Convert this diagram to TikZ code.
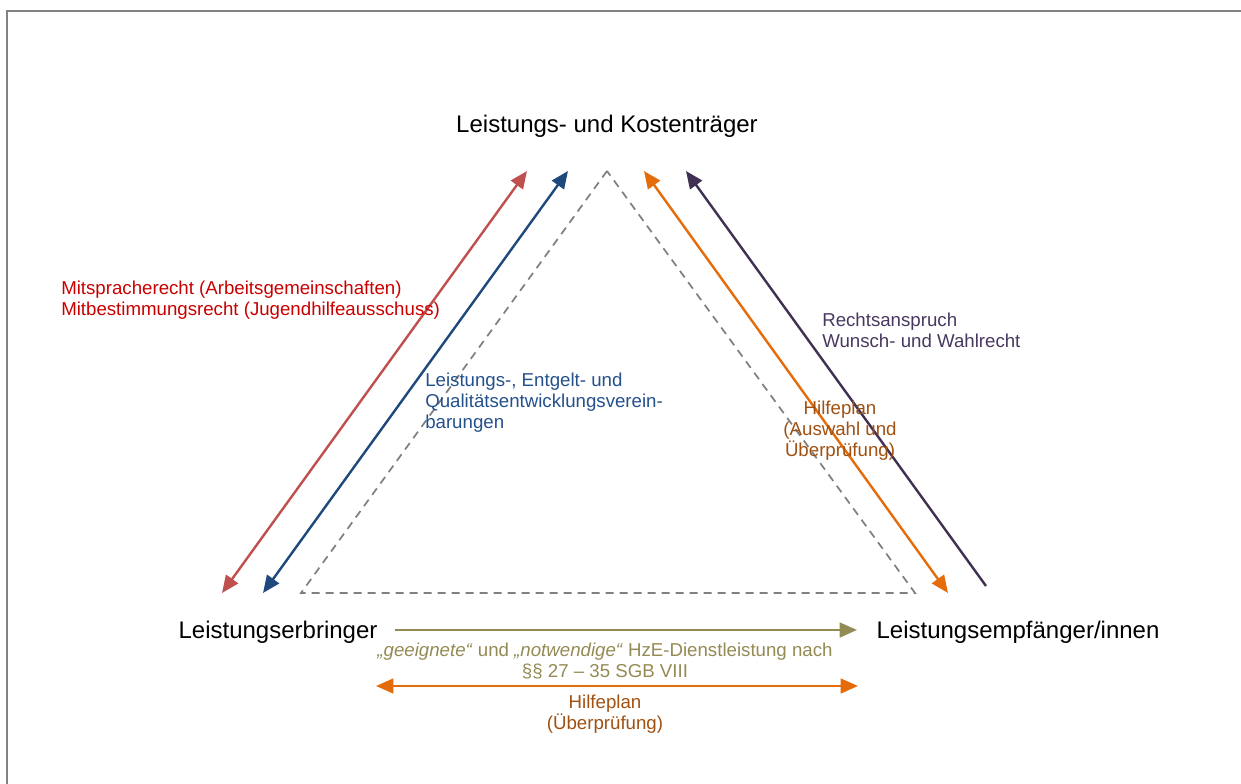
\documentclass[tikz,border=0pt]{standalone}
\usepackage{fontspec}
\setmainfont{Liberation Sans}
\usetikzlibrary{arrows.meta}
\definecolor{cred}{RGB}{192,80,77}
\definecolor{cblue}{RGB}{31,73,125}
\definecolor{corange}{RGB}{228,108,10}
\definecolor{cpurple}{RGB}{64,49,82}
\definecolor{colive}{RGB}{148,138,84}
\definecolor{tred}{RGB}{200,0,0}
\definecolor{tblue}{RGB}{36,80,140}
\definecolor{tpurple}{RGB}{72,56,96}
\definecolor{tbrown}{RGB}{160,80,16}
\definecolor{tolive}{RGB}{148,138,84}
\definecolor{framegray}{RGB}{130,130,130}
\definecolor{dashgray}{RGB}{128,128,128}
\tikzset{
  bigtext/.style={inner sep=0pt, font=\fontsize{18}{21}\selectfont, text=black},
  smalltext/.style={inner sep=0pt, font=\fontsize{14}{15.8}\selectfont},
  conn/.style={line width=1.8pt},
  tipone/.style={-{Triangle[length=13pt,width=11pt]}},
  tiptwo/.style={{Triangle[length=13pt,width=11pt]}-{Triangle[length=13pt,width=11pt]}},
  dashtri/.style={draw=dashgray, line width=1.3pt, dash pattern=on 6pt off 4.5pt},
}
\begin{document}
\begin{tikzpicture}[x=0.75pt,y=-0.75pt]
\useasboundingbox (0,0) rectangle (1241,784);
\coordinate (fb) at (7,784);
\coordinate (ftl) at (7,11);
\coordinate (fr) at (1241,11);
\draw[framegray, line width=1.6pt] (fb) -- (ftl) -- (fr);

% main labels
\node[bigtext] (kt) at (607,126) {Leistungs- und Kostenträger};
\node[bigtext] (le) at (278,632) {Leistungserbringer};
\node[bigtext] (lm) at (1018,632) {Leistungsempfänger/innen};

% dashed triangle
\coordinate (tA) at (607,171);
\coordinate (tL) at (301,593);
\coordinate (tR) at (915,593);
\draw[dashtri] (tA) -- (tL) -- (tR) -- cycle;

% arrow end points
\coordinate (r1) at (222,593); \coordinate (r2) at (527,171);
\coordinate (b1) at (263,593); \coordinate (b2) at (568,171);
\coordinate (o1) at (644,171); \coordinate (o2) at (948,593);
\coordinate (p1) at (986,586); \coordinate (p2) at (686,171);
\coordinate (g1) at (395,630); \coordinate (g2) at (857,630);
\coordinate (h1) at (376,686); \coordinate (h2) at (858,686);

\draw[conn, tiptwo, cred, fill=cred] (r1) -- (r2);
\draw[conn, tiptwo, cblue, fill=cblue] (b1) -- (b2);
\draw[conn, tiptwo, corange, fill=corange] (o1) -- (o2);
\draw[conn, tipone, cpurple, fill=cpurple] (p1) -- (p2);
\draw[conn, tipone, colive, fill=colive] (g1) -- (g2);
\draw[conn, tiptwo, corange, fill=corange] (h1) -- (h2);

% connector labels
\node[smalltext, text=tred, anchor=west, align=left] (lred) at (61,300)
  {Mitspracherecht (Arbeitsgemeinschaften)\\Mitbestimmungsrecht (Jugendhilfeausschuss)};
\node[smalltext, text=tblue, anchor=west, align=left] (lblue) at (425,403)
  {Leistungs-, Entgelt- und\\Qualitätsentwicklungsverein-\\barungen};
\node[smalltext, text=tpurple, anchor=west, align=left] (lpurple) at (822,330)
  {Rechtsanspruch\\Wunsch- und Wahlrecht};
\node[smalltext, text=tbrown, align=center] (lorange) at (840,431)
  {Hilfeplan\\(Auswahl und\\Überprüfung)};
\node[smalltext, text=tolive, align=center] (lolive) at (605,661)
  {\textit{„geeignete“} und \textit{„notwendige“} HzE-Dienstleistung nach\\§§ 27 – 35 SGB VIII};
\node[smalltext, text=tbrown, align=center] (lhilfe) at (605,714)
  {Hilfeplan\\(Überprüfung)};
\end{tikzpicture}
\end{document}
